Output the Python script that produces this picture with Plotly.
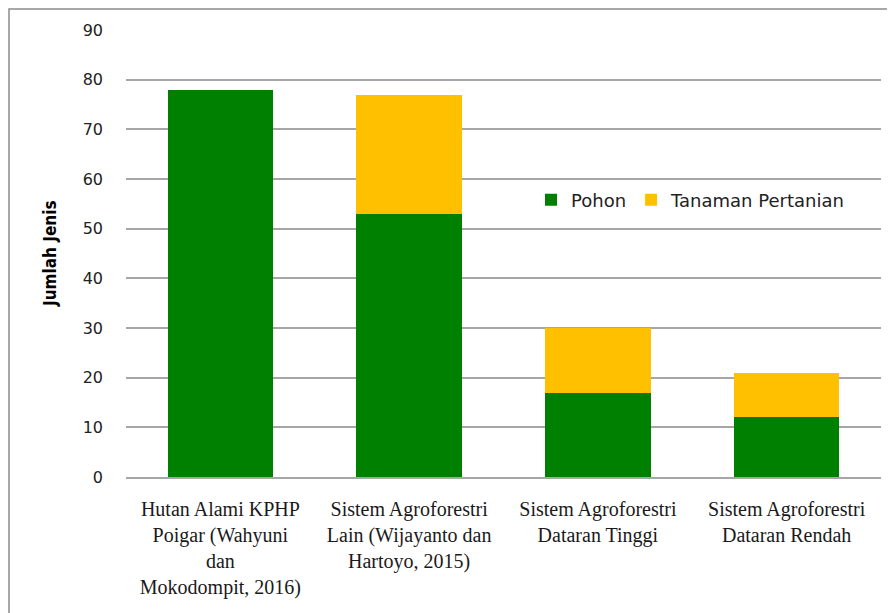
import plotly.graph_objects as go

categories = [
    "Hutan Alami KPHP<br>Poigar (Wahyuni<br>dan<br>Mokodompit, 2016)",
    "Sistem Agroforestri<br>Lain (Wijayanto dan<br>Hartoyo, 2015)",
    "Sistem Agroforestri<br>Dataran Tinggi",
    "Sistem Agroforestri<br>Dataran Rendah",
]
pohon = [78, 53, 17, 12]
tanaman_pertanian = [0, 24, 13, 9]
y_ticks = [0, 10, 20, 30, 40, 50, 60, 70, 80, 90]

# page body has an 8px default margin; figure is laid out in shifted coords
OFF = 8
W, H = 895 - OFF, 613 - OFF
L, T = 126 - OFF, 30 - OFF
R = W - (881 - OFF)
B = H - (477 - OFF)
pw = W - L - R
ph = H - T - B


def px_x(x):
    return (x - OFF - L) / pw


def px_y(y):
    return (H - B - (y - OFF)) / ph


fig = go.Figure()
fig.add_trace(go.Bar(name="Pohon", x=categories, y=pohon,
                     marker=dict(color="#008000", line=dict(width=0))))
fig.add_trace(go.Bar(name="Tanaman Pertanian", x=categories, y=tanaman_pertanian,
                     marker=dict(color="#FFC000", line=dict(width=0))))

fig.update_layout(
    width=W, height=H,
    margin=dict(l=L, r=R, t=T, b=B, pad=0),
    barmode="stack",
    bargap=0.44,
    plot_bgcolor="white",
    paper_bgcolor="white",
    showlegend=True,
    legend=dict(
        orientation="h",
        traceorder="normal",
        x=px_x(531), xanchor="left",
        y=px_y(200), yanchor="middle",
        font=dict(family="DejaVu Sans", size=18, color="#222222"),
        bgcolor="rgba(0,0,0,0)",
        itemclick=False,
    ),
    xaxis=dict(
        showgrid=False,
        showline=True, linecolor="#A6A6A6", linewidth=2,
        tickfont=dict(family="Liberation Serif", size=20, color="#1a1a1a"),
        ticks="",
        ticklabelstandoff=13,
        fixedrange=True,
    ),
    yaxis=dict(
        range=[0, 90],
        tickvals=y_ticks,
        showgrid=True, gridcolor="#A6A6A6", gridwidth=2,
        zeroline=False,
        showline=False,
        ticks="",
        tickfont=dict(family="DejaVu Sans", size=16, color="#222222"),
        ticklabelstandoff=22,
        fixedrange=True,
    ),
    shapes=[
        dict(type="rect", xref="paper", yref="paper",
             x0=px_x(9), x1=px_x(W + 40),
             y0=px_y(H + 40), y1=px_y(9),
             line=dict(color="#8c8c8c", width=1.5), fillcolor="rgba(0,0,0,0)",
             layer="below"),
    ],
    annotations=[
        dict(text="<b>Jumlah Jenis</b>", xref="paper", yref="paper",
             x=px_x(50), y=px_y(254),
             xanchor="center", yanchor="middle", textangle=-90,
             showarrow=False,
             font=dict(family="DejaVu Sans Condensed", size=17, color="#000000")),
    ],
)

fig.write_html("out.html")
